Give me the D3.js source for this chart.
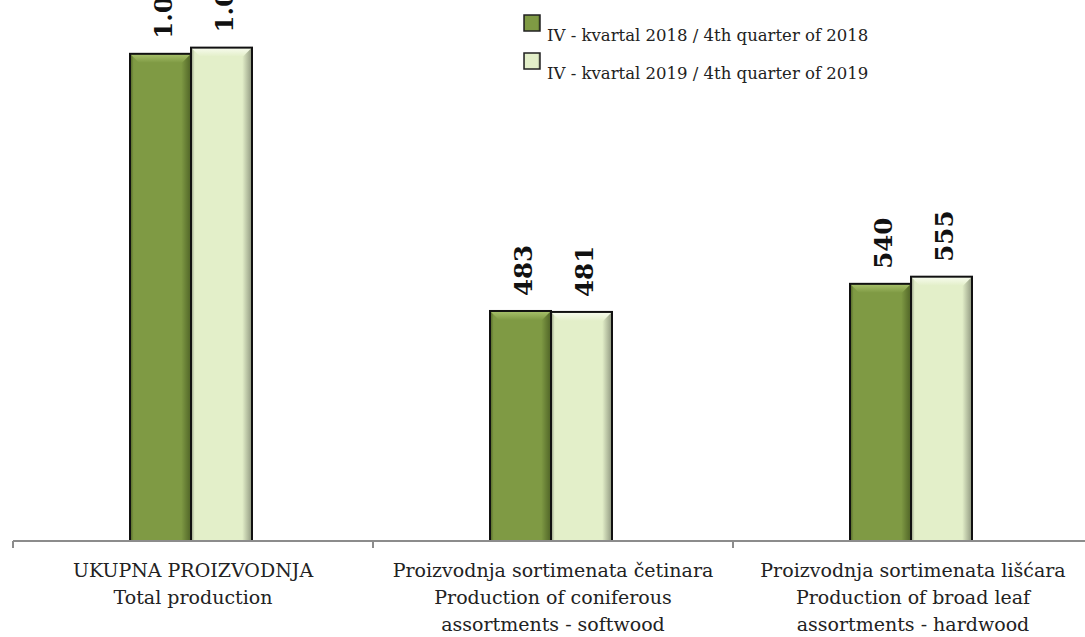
<!DOCTYPE html>
<html>
<head>
<meta charset="utf-8">
<script src="https://cdn.jsdelivr.net/npm/d3@7"></script>
<style>
  body { margin: 0; background: #fff; }
  svg { display: block; font-family: "DejaVu Serif", serif; }
</style>
</head>
<body>
<svg id="chart" width="1085" height="637"></svg>
<script>
// categories (two lines / three lines of label each)
const categories = [
  ["UKUPNA PROIZVODNJA", "Total production"],
  ["Proizvodnja sortimenata četinara", "Production of coniferous", "assortments - softwood"],
  ["Proizvodnja sortimenata lišćara", "Production of broad leaf", "assortments - hardwood"]
];
const seriesNames = [
  "IV - kvartal 2018 / 4th quarter of 2018",
  "IV - kvartal 2019 / 4th quarter of 2019"
];
const values2018 = [1023, 483, 540];
const values2019 = [1036, 481, 555];
const valueLabels2018 = ["1.023", "483", "540"];
const valueLabels2019 = ["1.036", "481", "555"];

const colors = [
  { base: "#7f9a44", light: "#a9c26c", dark: "#4f6326" },
  { base: "#e3efc9", light: "#f8fcef", dark: "#8f977f" }
];

const svg = d3.select("#chart");
const W = 1085, H = 637;
const baseY = 541;

const x0 = d3.scaleBand()
  .domain(d3.range(categories.length))
  .range([13, 1093])
  .paddingInner(2 / 3)
  .paddingOuter(1 / 3);

const x1 = d3.scaleBand()
  .domain([0, 1])
  .range([-3, x0.bandwidth() - 1]);

const y = d3.scaleLinear()
  .domain([0, 1136])
  .range([baseY, 0]);

// gradients for the bevelled look
const defs = svg.append("defs");
colors.forEach(function(c, i) {
  const g = defs.append("linearGradient").attr("id", "side" + i)
    .attr("x1", 0).attr("x2", 1).attr("y1", 0).attr("y2", 0);
  g.append("stop").attr("offset", "0%").attr("stop-color", c.dark);
  g.append("stop").attr("offset", "6%").attr("stop-color", c.base);
  g.append("stop").attr("offset", "84%").attr("stop-color", c.base);
  g.append("stop").attr("offset", "100%").attr("stop-color", c.dark);
  const t = defs.append("linearGradient").attr("id", "top" + i)
    .attr("x1", 0).attr("x2", 0).attr("y1", 0).attr("y2", 1);
  t.append("stop").attr("offset", "0%").attr("stop-color", c.light);
  t.append("stop").attr("offset", "100%").attr("stop-color", c.base);
});

const series = [values2018, values2019];
const labels = [valueLabels2018, valueLabels2019];

const bars = [];
categories.forEach(function(cat, ci) {
  series.forEach(function(vals, si) {
    bars.push({ ci: ci, si: si, v: vals[ci], label: labels[si][ci] });
  });
});

const bevel = 9;
const g = svg.append("g");
const bar = g.selectAll("g.bar")
  .data(bars)
  .enter().append("g")
  .attr("class", "bar")
  .attr("transform", function(d) { return "translate(" + (x0(d.ci) + x1(d.si)) + ",0)"; });

bar.append("rect")
  .attr("x", 0)
  .attr("y", function(d) { return y(d.v); })
  .attr("width", x1.bandwidth())
  .attr("height", function(d) { return baseY - y(d.v); })
  .attr("fill", function(d) { return "url(#side" + d.si + ")"; });

// top bevel
bar.append("path")
  .attr("d", function(d) {
    const w = x1.bandwidth(), t = y(d.v);
    return "M0," + t + "L" + w + "," + t + "L" + (w - bevel) + "," + (t + bevel) +
      "L" + bevel + "," + (t + bevel) + "Z";
  })
  .attr("fill", function(d) { return "url(#top" + d.si + ")"; });

bar.append("rect")
  .attr("x", 0)
  .attr("y", function(d) { return y(d.v); })
  .attr("width", x1.bandwidth())
  .attr("height", function(d) { return baseY - y(d.v); })
  .attr("fill", "none")
  .attr("stroke", "#111")
  .attr("stroke-width", 2);

// value labels, rotated
bar.append("text")
  .attr("transform", function(d) {
    return "translate(" + (x1.bandwidth() / 2 + 3) + "," + (y(d.v) - 15) + ")rotate(-90)";
  })
  .attr("dominant-baseline", "central")
  .attr("font-weight", "bold")
  .attr("font-size", 24.5)
  .attr("fill", "#111")
  .text(function(d) { return d.label; });

// axis
const axis = svg.append("g");
axis.append("line")
  .attr("x1", 13).attr("x2", W)
  .attr("y1", baseY).attr("y2", baseY)
  .attr("stroke", "#8c8c8c").attr("stroke-width", 2);
const ticks = d3.range(categories.length).map(function(i) { return x0(i) - x0.step() * x0.paddingOuter(); });
axis.selectAll("line.tick")
  .data(ticks)
  .enter().append("line")
  .attr("class", "tick")
  .attr("x1", function(d) { return d; }).attr("x2", function(d) { return d; })
  .attr("y1", baseY).attr("y2", baseY + 7)
  .attr("stroke", "#8c8c8c").attr("stroke-width", 2);

const catLabel = axis.selectAll("text.cat")
  .data(categories)
  .enter().append("text")
  .attr("class", "cat")
  .attr("text-anchor", "middle")
  .attr("font-size", 19)
  .attr("fill", "#222")
  .attr("x", function(d, i) { return x0(i) + x0.bandwidth() / 2; });
catLabel.selectAll("tspan")
  .data(function(d) { return d; })
  .enter().append("tspan")
  .attr("x", function() { return d3.select(this.parentNode).attr("x"); })
  .attr("y", function(d, i) { return 577 + i * 27; })
  .text(function(d) { return d; });

// legend
const legend = svg.append("g").attr("transform", "translate(524,15)");
const item = legend.selectAll("g")
  .data(seriesNames)
  .enter().append("g")
  .attr("transform", function(d, i) { return "translate(0," + (i * 38) + ")"; });
item.append("rect")
  .attr("width", 16).attr("height", 16)
  .attr("fill", function(d, i) { return "url(#side" + i + ")"; })
  .attr("stroke", "#222").attr("stroke-width", 1.5);
item.append("text")
  .attr("x", 23).attr("y", 26)
  .attr("font-size", 16.5)
  .attr("fill", "#222")
  .text(function(d) { return d; });
</script>
</body>
</html>
